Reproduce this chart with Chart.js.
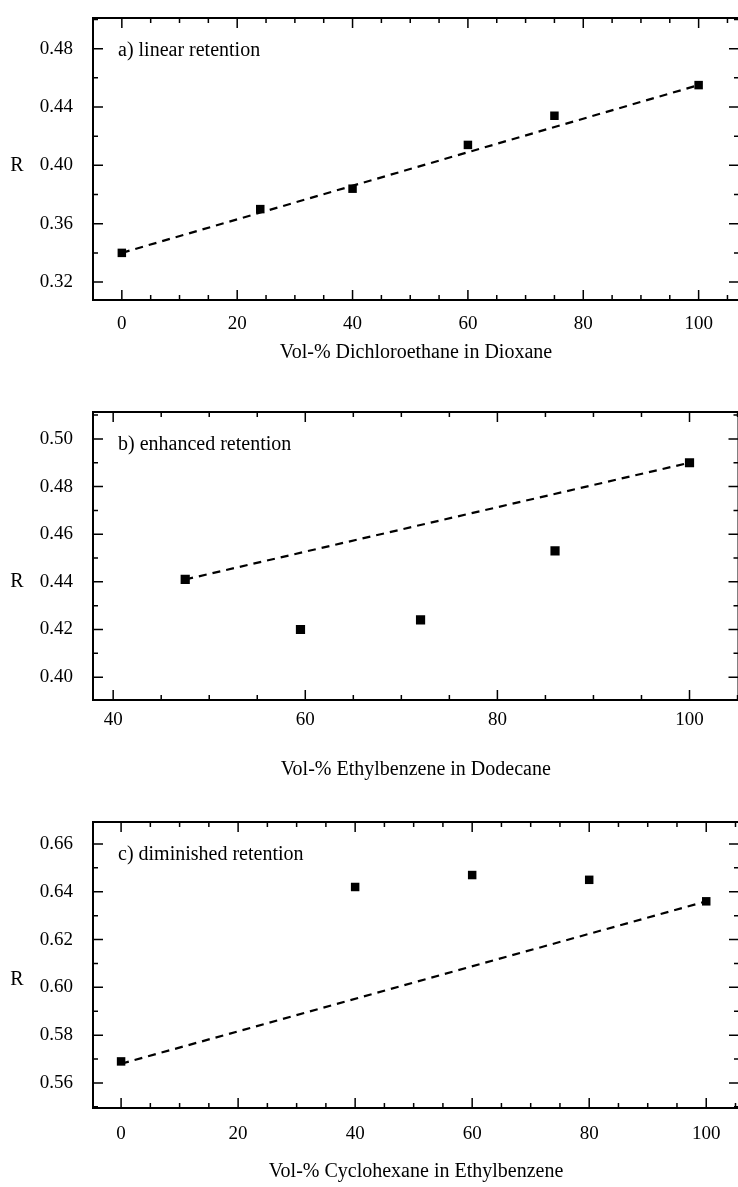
<!DOCTYPE html>
<html>
<head>
<meta charset="utf-8">
<script src="https://cdn.jsdelivr.net/npm/chart.js@4.4.1/dist/chart.umd.min.js"></script>
<style>
  html,body{margin:0;padding:0;background:#fff;overflow:hidden;width:738px;height:1187px;}
  canvas{position:absolute;left:0;}
</style>
</head>
<body>
<canvas id="panelA" width="745" height="370" style="top:0px"></canvas>
<canvas id="panelB" width="745" height="400" style="top:390px"></canvas>
<canvas id="panelC" width="745" height="387" style="top:800px"></canvas>
<script>
// a) linear retention
const aX = [0, 24, 40, 60, 75, 100];
const aR = [0.340, 0.370, 0.384, 0.414, 0.434, 0.455];
const aFitX = [0, 100];
const aFitR = [0.340, 0.455];
const aXTicks = [0, 20, 40, 60, 80, 100];
const aYTicks = [0.32, 0.36, 0.40, 0.44, 0.48];

// b) enhanced retention
const bX = [47.5, 59.5, 72, 86, 100];
const bR = [0.441, 0.420, 0.424, 0.453, 0.490];
const bFitX = [47.5, 100];
const bFitR = [0.441, 0.490];
const bXTicks = [40, 60, 80, 100];
const bYTicks = [0.40, 0.42, 0.44, 0.46, 0.48, 0.50];

// c) diminished retention
const cX = [0, 40, 60, 80, 100];
const cR = [0.569, 0.642, 0.647, 0.645, 0.636];
const cFitX = [0, 100];
const cFitR = [0.568, 0.636];
const cXTicks = [0, 20, 40, 60, 80, 100];
const cYTicks = [0.56, 0.58, 0.60, 0.62, 0.64, 0.66];

const FONT = "'Liberation Serif', 'DejaVu Serif', serif";

const panels = [
  {id:"panelA", x:aX, r:aR, fx:aFitX, fr:aFitR, xt:aXTicks, yt:aYTicks,
   xmin:-5, xmax:107, ymin:0.3077, ymax:0.501, xMinor:5, yMinor:0.02, ptR:6,
   note:"a) linear retention", title:"Vol-% Dichloroethane in Dioxane", rAt:0.40,
   top:18, xh:70, lblPad:13, titlePad:5},
  {id:"panelB", x:bX, r:bR, fx:bFitX, fr:bFitR, xt:bXTicks, yt:bYTicks,
   xmin:37.9, xmax:105.1, ymin:0.3904, ymax:0.5113, xMinor:5, yMinor:0.01, ptR:6.5,
   note:"b) enhanced retention", title:"Vol-% Ethylbenzene in Dodecane", rAt:0.44,
   top:22, xh:90, lblPad:9, titlePad:8},
  {id:"panelC", x:cX, r:cR, fx:cFitX, fr:cFitR, xt:cXTicks, yt:cYTicks,
   xmin:-4.8, xmax:105.6, ymin:0.5495, ymax:0.6692, xMinor:5, yMinor:0.01, ptR:6,
   note:"c) diminished retention", title:"Vol-% Cyclohexane in Ethylbenzene", rAt:0.603,
   top:22, xh:79, lblPad:15, titlePad:3}
];

const frame = {
  id:"frame",
  afterDatasetsDraw(chart, args, o){
    const {ctx, chartArea:a, scales:{x, y}} = chart;
    ctx.save();
    ctx.strokeStyle = "#000";
    ctx.lineWidth = 2;
    ctx.strokeRect(a.left, a.top, a.right - a.left, a.bottom - a.top);
    ctx.lineWidth = 1.5;
    ctx.beginPath();
    const xs = Math.ceil(x.min / o.xMinor);
    for(let i = xs; i * o.xMinor <= x.max; i++){
      const v = i * o.xMinor;
      const px = x.getPixelForValue(v);
      const len = o.xt.some(t => Math.abs(t - v) < 1e-6) ? 10 : 5;
      ctx.moveTo(px, a.bottom); ctx.lineTo(px, a.bottom - len);
      ctx.moveTo(px, a.top); ctx.lineTo(px, a.top + len);
    }
    const ys = Math.ceil(y.min / o.yMinor - 1e-6);
    for(let i = ys; i * o.yMinor <= y.max + 1e-9; i++){
      const v = i * o.yMinor;
      const py = y.getPixelForValue(v);
      const len = o.yt.some(t => Math.abs(t - v) < 1e-6) ? 10 : 5;
      ctx.moveTo(a.left, py); ctx.lineTo(a.left + len, py);
      ctx.moveTo(a.right, py); ctx.lineTo(a.right - len, py);
    }
    ctx.stroke();
    ctx.fillStyle = "#000";
    ctx.font = "20px " + FONT;
    ctx.textBaseline = "middle";
    ctx.textAlign = "left";
    ctx.fillText(o.note, a.left + 25, a.top + 33);
    ctx.textAlign = "center";
    ctx.fillText("R", 17, y.getPixelForValue(o.rAt));
    ctx.restore();
  }
};

panels.forEach(p => {
  new Chart(document.getElementById(p.id), {
    type:"scatter",
    data:{datasets:[
      {data:p.fx.map((v,i)=>({x:v, y:p.fr[i]})), showLine:true, borderColor:"#000",
       borderWidth:2.2, borderDash:[8,6], pointRadius:0, order:2},
      {data:p.x.map((v,i)=>({x:v, y:p.r[i]})), pointStyle:"rect", pointRadius:p.ptR,
       backgroundColor:"#000", borderColor:"#000", borderWidth:0, order:1}
    ]},
    options:{
      responsive:false, animation:false, devicePixelRatio:1,
      layout:{padding:{top:p.top, right:4, left:0, bottom:0}},
      plugins:{legend:{display:false}, tooltip:{enabled:false}, frame:p},
      scales:{
        x:{type:"linear", min:p.xmin, max:p.xmax,
           grid:{display:false, drawTicks:false}, border:{display:false},
           afterBuildTicks:s => { s.ticks = p.xt.map(v => ({value:v})); },
           afterFit:s => { s.height = p.xh; s.paddingLeft = 0; s.paddingRight = 0; },
           ticks:{color:"#000", font:{family:FONT, size:19}, padding:p.lblPad,
                  callback:v => String(v)},
           title:{display:true, text:p.title, color:"#000",
                  font:{family:FONT, size:20}, padding:{top:0, bottom:p.titlePad}}},
        y:{type:"linear", min:p.ymin, max:p.ymax,
           grid:{display:false, drawTicks:false}, border:{display:false},
           afterBuildTicks:s => { s.ticks = p.yt.map(v => ({value:v})); },
           afterFit:s => { s.width = 93; s.paddingTop = 0; s.paddingBottom = 0; },
           ticks:{color:"#000", font:{family:FONT, size:19}, padding:20,
                  callback:v => v.toFixed(2)}}
      }
    },
    plugins:[frame]
  });
});
</script>
</body>
</html>
